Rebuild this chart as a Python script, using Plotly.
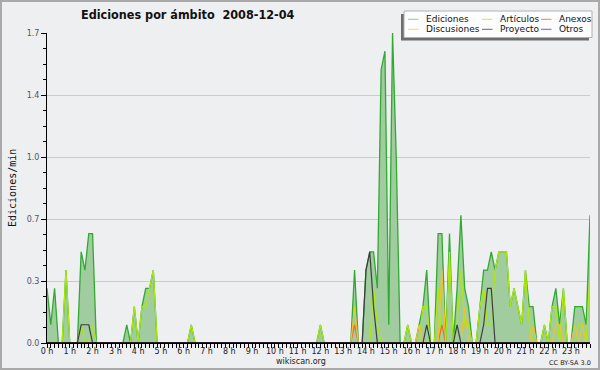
import plotly.graph_objects as go

# ---------------- data (10-minute bins, edits per minute) ----------------
hour_labels = ["0 h", "1 h", "2 h", "3 h", "4 h", "5 h", "6 h", "7 h", "8 h", "9 h",
               "10 h", "11 h", "12 h", "13 h", "14 h", "15 h", "16 h", "17 h", "18 h",
               "19 h", "20 h", "21 h", "22 h", "23 h"]

ediciones = [
    0.3, 0.1, 0.3, 0, 0, 0.4, 0, 0, 0, 0.5, 0.4, 0.6,
    0.6, 0, 0, 0, 0, 0, 0, 0, 0, 0.1, 0, 0.2,
    0, 0.2, 0.3, 0.3, 0.4, 0, 0, 0, 0, 0, 0, 0,
    0, 0, 0.1, 0, 0, 0, 0, 0, 0, 0, 0, 0,
    0, 0, 0, 0, 0, 0, 0, 0, 0, 0, 0, 0,
    0, 0, 0, 0, 0, 0, 0, 0, 0, 0, 0, 0,
    0.1, 0, 0, 0, 0, 0, 0, 0, 0, 0.4, 0, 0,
    0.4, 0.5, 0.5, 0.3, 1.5, 1.6, 0.1, 1.7, 1.0, 0, 0, 0.1,
    0, 0, 0.1, 0.2, 0.4, 0, 0, 0.6, 0.6, 0, 0.6, 0,
    0.3, 0.7, 0.3, 0.2, 0, 0, 0.2, 0.4, 0.4, 0.5, 0.4, 0.5,
    0.5, 0.5, 0.2, 0.3, 0.2, 0.1, 0.4, 0.2, 0.2, 0, 0, 0.1,
    0, 0.2, 0.3, 0.1, 0.3, 0, 0, 0.2, 0.2, 0.2, 0.1, 0.7,
]

articulos = [
    0, 0, 0, 0, 0, 0.4, 0, 0, 0, 0.1, 0, 0,
    0.1, 0, 0, 0, 0, 0, 0, 0, 0, 0, 0, 0.2,
    0, 0.2, 0.2, 0.3, 0.4, 0, 0, 0, 0, 0, 0, 0,
    0, 0, 0.1, 0, 0, 0, 0, 0, 0, 0, 0, 0,
    0, 0, 0, 0, 0, 0, 0, 0, 0, 0, 0, 0,
    0, 0, 0, 0, 0, 0, 0, 0, 0, 0, 0, 0,
    0.1, 0, 0, 0, 0, 0, 0, 0, 0, 0, 0, 0,
    0, 0, 0.3, 0.1, 0, 0, 0, 0, 0, 0, 0, 0.1,
    0, 0, 0, 0.2, 0.2, 0, 0, 0.3, 0, 0, 0.5, 0,
    0.1, 0.4, 0.1, 0.1, 0, 0, 0.2, 0.3, 0.1, 0.1, 0.4, 0.5,
    0.5, 0.5, 0.2, 0.3, 0.2, 0.1, 0.4, 0.1, 0, 0, 0, 0.1,
    0, 0.2, 0.2, 0, 0.3, 0, 0, 0, 0.1, 0.1, 0, 0.4,
]

anexos = [
    0, 0, 0, 0, 0, 0, 0, 0, 0, 0, 0, 0,
    0, 0, 0, 0, 0, 0, 0, 0, 0, 0, 0, 0,
    0, 0, 0, 0, 0, 0, 0, 0, 0, 0, 0, 0,
    0, 0, 0, 0, 0, 0, 0, 0, 0, 0, 0, 0,
    0, 0, 0, 0, 0, 0, 0, 0, 0, 0, 0, 0,
    0, 0, 0, 0, 0, 0, 0, 0, 0, 0, 0, 0,
    0, 0, 0, 0, 0, 0, 0, 0, 0, 0.1, 0, 0,
    0, 0, 0, 0, 0, 0, 0, 0, 0, 0, 0, 0,
    0, 0, 0, 0, 0, 0, 0, 0, 0.1, 0, 0, 0,
    0, 0, 0, 0, 0, 0, 0, 0, 0, 0, 0, 0,
    0, 0, 0, 0, 0, 0, 0, 0, 0, 0, 0, 0,
    0, 0, 0, 0, 0, 0, 0, 0, 0, 0, 0, 0,
]

discusiones = [
    0, 0, 0, 0, 0, 0, 0, 0, 0, 0, 0, 0,
    0, 0, 0, 0, 0, 0, 0, 0, 0, 0, 0, 0,
    0, 0, 0, 0, 0, 0, 0, 0, 0, 0, 0, 0,
    0, 0, 0, 0, 0, 0, 0, 0, 0, 0, 0, 0,
    0, 0, 0, 0, 0, 0, 0, 0, 0, 0, 0, 0,
    0, 0, 0, 0, 0, 0, 0, 0, 0, 0, 0, 0,
    0, 0, 0, 0, 0, 0, 0, 0, 0, 0.2, 0, 0,
    0, 0, 0, 0, 0, 0, 0, 0, 0, 0, 0, 0,
    0, 0, 0.1, 0, 0, 0, 0, 0, 0.4, 0, 0, 0,
    0, 0, 0.2, 0, 0, 0, 0, 0, 0, 0, 0, 0,
    0, 0, 0, 0, 0, 0, 0, 0, 0.1, 0, 0, 0,
    0, 0, 0.1, 0.1, 0, 0, 0, 0.1, 0, 0.1, 0, 0,
]

proyecto = [
    0, 0, 0, 0, 0, 0, 0, 0, 0, 0.1, 0.1, 0.1,
    0, 0, 0, 0, 0, 0, 0, 0, 0, 0, 0, 0,
    0, 0, 0, 0, 0, 0, 0, 0, 0, 0, 0, 0,
    0, 0, 0, 0, 0, 0, 0, 0, 0, 0, 0, 0,
    0, 0, 0, 0, 0, 0, 0, 0, 0, 0, 0, 0,
    0, 0, 0, 0, 0, 0, 0, 0, 0, 0, 0, 0,
    0, 0, 0, 0, 0, 0, 0, 0, 0, 0, 0, 0,
    0.4, 0.5, 0.2, 0, 0, 0, 0, 0, 0, 0, 0, 0,
    0, 0, 0, 0, 0.1, 0, 0, 0, 0, 0, 0, 0,
    0.1, 0, 0, 0, 0, 0, 0, 0.1, 0.3, 0.3, 0, 0,
    0, 0, 0, 0, 0, 0, 0, 0, 0, 0, 0, 0,
    0, 0, 0, 0, 0, 0, 0, 0, 0, 0, 0, 0,
]

otros = [0] * 144

y_tick_vals = [0, 0.34, 0.68, 1.02, 1.36, 1.7]
y_tick_text = ["0.0", "0.3", "0.7", "1.0", "1.4", "1.7"]

# ---------------- styling ----------------
W, H = 600, 370
L, R, T, B = 47, 10, 33, 27
PW, PH = W - L - R, H - T - B
BG = "#eeeff1"
SANS = "DejaVu Sans"

def px(x):
    return (x - L) / PW

def py(y):
    return (H - B - y) / PH

C_ED = "#30aa30"
C_ED_FILL = "#a0cca0"
C_ART = "#aee80c"
C_ANX = "#f06a2a"
C_DIS = "#f3c22b"
C_PRO = "#3d3d3d"
C_OTR = "#9a4ef0"

idx = list(range(len(ediciones)))

fig = go.Figure()
fig.add_trace(go.Scatter(x=idx, y=ediciones, mode="lines", name="Ediciones",
                         line=dict(color=C_ED, width=1.3), fill="tozeroy",
                         fillcolor=C_ED_FILL, showlegend=False, hoverinfo="skip"))
for name, vals, col in [("Artículos", articulos, C_ART),
                        ("Anexos", anexos, C_ANX),
                        ("Discusiones", discusiones, C_DIS),
                        ("Proyecto", proyecto, C_PRO),
                        ("Otros", otros, C_OTR)]:
    fig.add_trace(go.Scatter(x=idx, y=vals, mode="lines", name=name,
                             line=dict(color=col, width=1.2), showlegend=False,
                             hoverinfo="skip"))

shapes = []
annotations = []

# baseline drawn over the zero segments of the series (as in the reference)
shapes.append(dict(type="line", xref="paper", yref="paper",
                   x0=0, x1=1, y0=0, y1=0,
                   line=dict(color="black", width=1.6), layer="above"))

# outer frame
shapes.append(dict(type="rect", xref="paper", yref="paper",
                   x0=px(1), x1=px(W - 1), y0=py(H - 1), y1=py(1),
                   line=dict(color="#a9a9a9", width=2), layer="above"))

# legend box with shadow
shapes.append(dict(type="rect", xref="paper", yref="paper",
                   x0=px(401), x1=px(589), y0=py(40.5), y1=py(14),
                   fillcolor="#6e6e6e", line=dict(width=0), layer="above"))
shapes.append(dict(type="rect", xref="paper", yref="paper",
                   x0=px(404), x1=px(592), y0=py(37.5), y1=py(11),
                   fillcolor="#fdfdfd", line=dict(color="#b0b0b0", width=1), layer="above"))

legend_items = [("Ediciones", "#86d486", 408, 19.3), ("Artículos", "#c8ee3c", 482, 19.3),
                ("Anexos", "#ff7f40", 541, 19.3), ("Discusiones", "#ffd84a", 408, 29.3),
                ("Proyecto", "#666666", 482, 29.3), ("Otros", "#9a3cff", 541, 29.3)]
for name, col, x0, yy in legend_items:
    shapes.append(dict(type="line", xref="paper", yref="paper",
                       x0=px(x0), x1=px(x0 + 10.5), y0=py(yy), y1=py(yy),
                       line=dict(color=col, width=1), layer="above"))
    annotations.append(dict(text=name, xref="paper", yref="paper",
                            x=px(x0 + 16), y=py(yy), xanchor="left", yanchor="middle",
                            showarrow=False, font=dict(family=SANS, size=9, color="#111")))

# title
annotations.append(dict(text="<b>Ediciones por ámbito\u00a0\u00a02008-12-04</b>",
                        xref="paper", yref="paper", x=px(188), y=py(14),
                        xanchor="center", yanchor="middle", showarrow=False,
                        font=dict(family="DejaVu Sans Condensed, " + SANS, size=12.5, color="#111")))
# y title
annotations.append(dict(text="Ediciones/min", xref="paper", yref="paper",
                        x=px(12), y=py(188), textangle=-90, xanchor="center", yanchor="middle",
                        showarrow=False, font=dict(family="DejaVu Sans Mono", size=10, color="#111")))
# footer
annotations.append(dict(text="wikiscan.org", xref="paper", yref="paper",
                        x=px(301), y=py(361.5), xanchor="center", yanchor="middle",
                        showarrow=False, font=dict(family=SANS, size=8, color="#222")))
annotations.append(dict(text="CC BY-SA 3.0", xref="paper", yref="paper",
                        x=px(593), y=py(363), xanchor="right", yanchor="middle",
                        showarrow=False, font=dict(family=SANS, size=6.5, color="#222")))

fig.update_layout(
    width=W, height=H,
    margin=dict(l=L, r=R, t=T, b=B, pad=0),
    paper_bgcolor=BG, plot_bgcolor=BG,
    showlegend=False, hovermode=False,
    shapes=shapes, annotations=annotations,
    xaxis=dict(range=[0, len(ediciones) - 1], showgrid=False, zeroline=False,
               showline=True, linecolor="black", linewidth=1,
               ticks="outside", ticklen=4, tickcolor="black", tickwidth=1,
               tickmode="array", tickvals=[6 * h for h in range(24)], ticktext=hour_labels,
               tickfont=dict(family=SANS, size=8, color="#222"),
               ticklabelstandoff=-4,
               minor=dict(tick0=0, dtick=1, ticks="outside", ticklen=4,
                          tickcolor="black", showgrid=False)),
    yaxis=dict(range=[0, 1.7], showgrid=True, gridcolor="#cbcbcb", gridwidth=1,
               zeroline=False, showline=True, linecolor="black", linewidth=1,
               ticks="outside", ticklen=5, tickcolor="black",
               tickmode="array", tickvals=y_tick_vals, ticktext=y_tick_text,
               tickfont=dict(family=SANS, size=8, color="#555"),
               minor=dict(tick0=0, dtick=0.085, ticks="outside", ticklen=3,
                          tickcolor="black", showgrid=False)),
)

fig.write_html("out.html", config={"displayModeBar": False, "staticPlot": True},
               post_script="document.body.style.margin='0';document.body.style.background='%s';" % BG)
